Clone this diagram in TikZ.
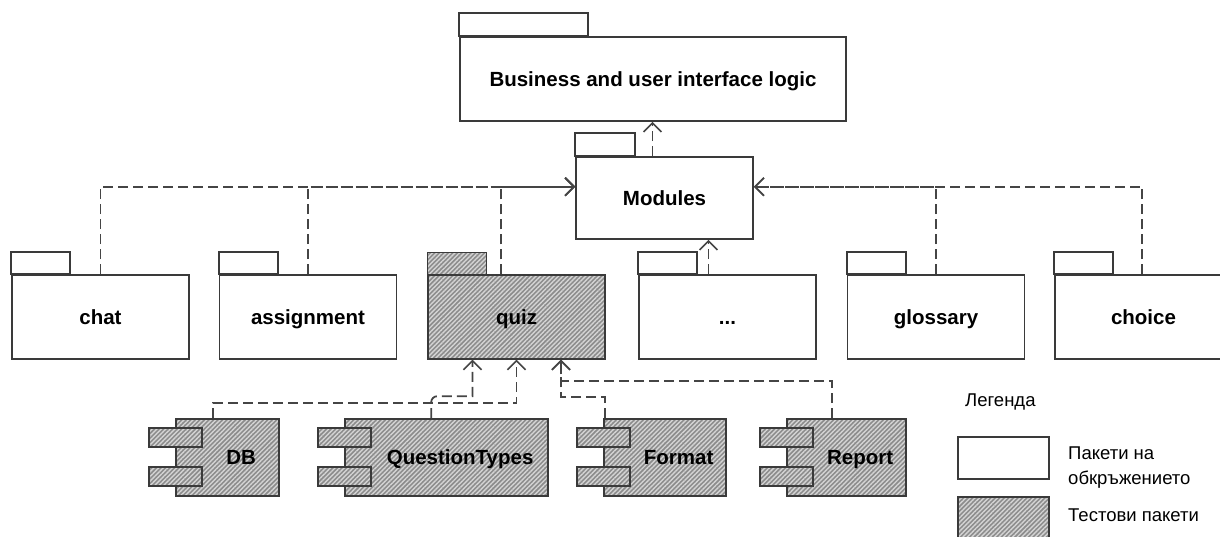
\documentclass[tikz,border=0pt]{standalone}
\usepackage{fontspec}
\setmainfont{Liberation Sans}
\usetikzlibrary{arrows.meta,patterns.meta,calc}
\definecolor{linec}{HTML}{3A3A3A}
\definecolor{dashc}{HTML}{454545}
\definecolor{hatchbg}{HTML}{8C8C8C}
\definecolor{hatchln}{HTML}{D4D4D4}
\begin{document}
\begin{tikzpicture}[x=1pt,y=-1pt,
  box/.style={draw=linec,line width=1.6pt,fill=white,inner sep=0pt},
  hatch/.style={preaction={fill=hatchbg},pattern={Lines[angle=45,distance=3.2pt,line width=1.4pt]},pattern color=hatchln},
  boldf/.style={font=\fontsize{20.5}{24}\selectfont\bfseries,text height=16pt,text depth=1.4pt},
  legf/.style={font=\fontsize{18.5}{22}\selectfont},
  pkg/.style={box,boldf,minimum width=177pt,minimum height=84pt},
  tabbox/.style={draw=linec,line width=1.6pt,fill=white},
  hatchtab/.style={draw=linec,line width=1.6pt,hatch},
  comp/.style={box,hatch,minimum height=77pt},
  port/.style={box,hatch,minimum width=53pt,minimum height=19pt},
  ctext/.style={boldf,inner sep=0pt,text height=14.6pt,text depth=1.5pt},
  dep/.style={draw=dashc,line width=1.8pt,dash pattern=on 10pt off 5pt,
    -{Straight Barb[length=9pt,width=18pt,line width=1.6pt]}}
]
\useasboundingbox (0,0) rectangle (1220,536);
\clip (0,0) rectangle (1220,536);

% top packages
\node[box,boldf,minimum width=386pt,minimum height=84pt] (biz) at (653,79) {Business and user interface logic};
\draw[tabbox] (biz.north west) rectangle ++(129,-23);
\node[box,boldf,minimum width=177pt,minimum height=82pt] (mod) at (664.5,198) {Modules};
\draw[tabbox] (mod.north west) rectangle ++(60,-23);

% module packages
\node[pkg] (chat) at (100.5,317) {chat};
\node[pkg] (assignment) at (308,317) {assignment};
\node[pkg,hatch] (quiz) at (516.5,317) {quiz};
\node[pkg] (dots) at (727.5,317) {...};
\node[pkg] (glossary) at (936,317) {glossary};
\node[pkg] (choice) at (1143.5,317) {choice};
\foreach \p in {chat,assignment,dots,glossary,choice}
  \draw[tabbox] (\p.north west) rectangle ++(59,-22);
\draw[hatchtab] (quiz.north west) rectangle ++(59,-22);

% dependencies to Modules / Business
\draw[dep] ([xshift=-12pt]mod.north) -- ([xshift=-12pt]mod.north |- biz.south);
\draw[dep] (chat.north) |- ([yshift=11.3pt]mod.west);
\draw[dep] (assignment.north) |- ([yshift=11.3pt]mod.west);
\draw[dep] ([xshift=-15.5pt]quiz.north) |- ([yshift=11.3pt]mod.west);
\draw[dep] (glossary.north) |- ([yshift=11.3pt]mod.east);
\draw[dep] ([xshift=-1.5pt]choice.north) |- ([yshift=11.3pt]mod.east);
\draw[dep] ([xshift=-19pt]dots.north) -- ([xshift=-19pt]dots.north |- mod.south);

% components
\node[comp,minimum width=103pt] (db) at (227.5,457.5) {};
\node[comp,minimum width=203pt] (qt) at (446.5,457.5) {};
\node[comp,minimum width=122pt] (fmt) at (665,457.5) {};
\node[comp,minimum width=119pt] (rep) at (846.5,457.5) {};
\foreach \c in {db,qt,fmt,rep}{
  \node[port] (\c1) at ([yshift=20pt]\c.west) {};
  \node[port] (\c2) at ([yshift=-19pt]\c.west) {};
}
\node[ctext] (dbt) at ($(db1.east |- db.center)!0.5!(db.east)$) {DB};
\node[ctext] (qtt) at ($(qt1.east |- qt.center)!0.5!(qt.east)$) {QuestionTypes};
\node[ctext] (fmtt) at ($(fmt1.east |- fmt.center)!0.5!(fmt.east)$) {Format};
\node[ctext] (rept) at ($(rep1.east |- rep.center)!0.5!(rep.east)$) {Report};

% dependencies to quiz
\draw[dep] ([xshift=38pt]db.north west) -- ++(0,-15) -| (quiz.south);
\draw[dep] ([xshift=87pt]qt.north west) -- ++(0,-16) to[out=90,in=180] ++(6,-6) -| ([xshift=-44pt]quiz.south);
\draw[dep] ([xshift=2pt]fmt.north west) -- ++(0,-21) -| ([xshift=44.5pt]quiz.south);
\draw[dep] ([xshift=46pt]rep.north west) -- ++(0,-37) -| ([xshift=44.5pt]quiz.south);

% legend
\node[legf,anchor=base west,inner sep=0pt] (legt) at (965,406) {Легенда};
\node[box,minimum width=91pt,minimum height=42pt] (lw) at (1003.5,458) {};
\node[box,hatch,minimum width=91pt,minimum height=42pt] (lh) at (1003.5,518) {};
\node[legf,anchor=base west,inner sep=0pt] (lwt1) at (1068,459) {Пакети на};
\node[legf,anchor=base west,inner sep=0pt] (lwt2) at (1068,484) {обкръжението};
\node[legf,anchor=base west,inner sep=0pt] (lht) at (1068,521.5) {Тестови пакети};
\end{tikzpicture}
\end{document}
